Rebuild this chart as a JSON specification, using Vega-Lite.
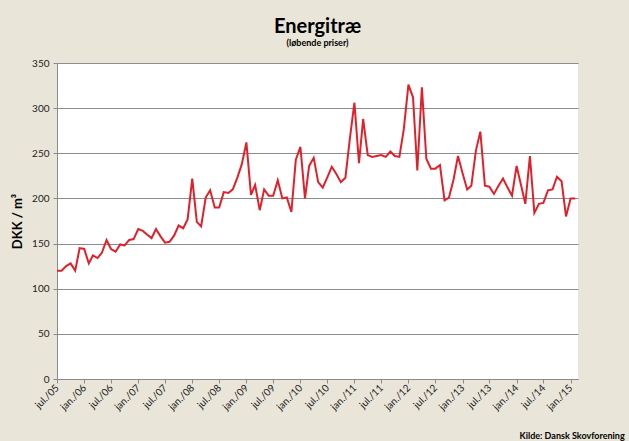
{
  "$schema": "https://vega.github.io/schema/vega-lite/v6.json",
  "autosize": {"type": "none"},
  "width": 521,
  "height": 316,
  "padding": {"left": 57, "top": 63, "right": 51, "bottom": 62},
  "background": "#E9E5D8",
  "title": {
    "text": "Energitræ",
    "subtitle": "(løbende priser)",
    "anchor": "middle",
    "font": "Lato",
    "fontSize": 20,
    "fontWeight": "bold",
    "color": "#000000",
    "subtitleFont": "Lato",
    "subtitleFontSize": 9,
    "subtitleFontWeight": "bold",
    "subtitleColor": "#000000",
    "subtitlePadding": 2,
    "offset": 10
  },
  "data": {
    "values": [
      {"m": "2005-07", "v": 120}, {"m": "2005-08", "v": 120}, {"m": "2005-09", "v": 125}, {"m": "2005-10", "v": 128}, {"m": "2005-11", "v": 120}, {"m": "2005-12", "v": 145},
      {"m": "2006-01", "v": 144}, {"m": "2006-02", "v": 128}, {"m": "2006-03", "v": 137}, {"m": "2006-04", "v": 134}, {"m": "2006-05", "v": 140}, {"m": "2006-06", "v": 154}, {"m": "2006-07", "v": 144}, {"m": "2006-08", "v": 141}, {"m": "2006-09", "v": 149}, {"m": "2006-10", "v": 148}, {"m": "2006-11", "v": 154}, {"m": "2006-12", "v": 155},
      {"m": "2007-01", "v": 166}, {"m": "2007-02", "v": 164}, {"m": "2007-03", "v": 160}, {"m": "2007-04", "v": 156}, {"m": "2007-05", "v": 166}, {"m": "2007-06", "v": 158}, {"m": "2007-07", "v": 151}, {"m": "2007-08", "v": 152}, {"m": "2007-09", "v": 159}, {"m": "2007-10", "v": 170}, {"m": "2007-11", "v": 167}, {"m": "2007-12", "v": 177},
      {"m": "2008-01", "v": 222}, {"m": "2008-02", "v": 174}, {"m": "2008-03", "v": 169}, {"m": "2008-04", "v": 201}, {"m": "2008-05", "v": 209}, {"m": "2008-06", "v": 190}, {"m": "2008-07", "v": 190}, {"m": "2008-08", "v": 207}, {"m": "2008-09", "v": 206}, {"m": "2008-10", "v": 210}, {"m": "2008-11", "v": 223}, {"m": "2008-12", "v": 238},
      {"m": "2009-01", "v": 262}, {"m": "2009-02", "v": 204}, {"m": "2009-03", "v": 215}, {"m": "2009-04", "v": 187}, {"m": "2009-05", "v": 210}, {"m": "2009-06", "v": 203}, {"m": "2009-07", "v": 203}, {"m": "2009-08", "v": 220}, {"m": "2009-09", "v": 200}, {"m": "2009-10", "v": 201}, {"m": "2009-11", "v": 185}, {"m": "2009-12", "v": 243},
      {"m": "2010-01", "v": 257}, {"m": "2010-02", "v": 200}, {"m": "2010-03", "v": 236}, {"m": "2010-04", "v": 245}, {"m": "2010-05", "v": 218}, {"m": "2010-06", "v": 212}, {"m": "2010-07", "v": 223}, {"m": "2010-08", "v": 235}, {"m": "2010-09", "v": 227}, {"m": "2010-10", "v": 218}, {"m": "2010-11", "v": 223}, {"m": "2010-12", "v": 266},
      {"m": "2011-01", "v": 306}, {"m": "2011-02", "v": 239}, {"m": "2011-03", "v": 288}, {"m": "2011-04", "v": 248}, {"m": "2011-05", "v": 246}, {"m": "2011-06", "v": 247}, {"m": "2011-07", "v": 248}, {"m": "2011-08", "v": 246}, {"m": "2011-09", "v": 252}, {"m": "2011-10", "v": 247}, {"m": "2011-11", "v": 246}, {"m": "2011-12", "v": 277},
      {"m": "2012-01", "v": 326}, {"m": "2012-02", "v": 312}, {"m": "2012-03", "v": 231}, {"m": "2012-04", "v": 323}, {"m": "2012-05", "v": 244}, {"m": "2012-06", "v": 233}, {"m": "2012-07", "v": 233}, {"m": "2012-08", "v": 237}, {"m": "2012-09", "v": 198}, {"m": "2012-10", "v": 201}, {"m": "2012-11", "v": 221}, {"m": "2012-12", "v": 247},
      {"m": "2013-01", "v": 228}, {"m": "2013-02", "v": 210}, {"m": "2013-03", "v": 214}, {"m": "2013-04", "v": 253}, {"m": "2013-05", "v": 274}, {"m": "2013-06", "v": 214}, {"m": "2013-07", "v": 213}, {"m": "2013-08", "v": 205}, {"m": "2013-09", "v": 214}, {"m": "2013-10", "v": 222}, {"m": "2013-11", "v": 212}, {"m": "2013-12", "v": 203},
      {"m": "2014-01", "v": 236}, {"m": "2014-02", "v": 214}, {"m": "2014-03", "v": 194}, {"m": "2014-04", "v": 247}, {"m": "2014-05", "v": 184}, {"m": "2014-06", "v": 194}, {"m": "2014-07", "v": 195}, {"m": "2014-08", "v": 209}, {"m": "2014-09", "v": 210}, {"m": "2014-10", "v": 224}, {"m": "2014-11", "v": 219}, {"m": "2014-12", "v": 180},
      {"m": "2015-01", "v": 200}, {"m": "2015-02", "v": 200}
    ],
    "format": {"parse": {"m": "date:'%Y-%m'"}}
  },
  "mark": {"type": "line", "color": "#E2202A", "strokeWidth": 2, "interpolate": "linear"},
  "encoding": {
    "x": {
      "field": "m",
      "type": "temporal",
      "scale": {"domain": [{"year": 2005, "month": 7, "date": 1}, {"year": 2015, "month": 2, "date": 20}]},
      "axis": {
        "title": "Kilde: Dansk Skovforening",
        "titleFont": "Lato",
        "titleFontSize": 9,
        "titleFontWeight": "bold",
        "titleColor": "#000000",
        "titleAnchor": "start",
        "titleAlign": "left",
        "titleBaseline": "alphabetic",
        "titleX": 462,
        "titleY": 59,
        "values": [
          {"year": 2005, "month": 7, "date": 1}, {"year": 2006, "month": 1, "date": 1},
          {"year": 2006, "month": 7, "date": 1}, {"year": 2007, "month": 1, "date": 1},
          {"year": 2007, "month": 7, "date": 1}, {"year": 2008, "month": 1, "date": 1},
          {"year": 2008, "month": 7, "date": 1}, {"year": 2009, "month": 1, "date": 1},
          {"year": 2009, "month": 7, "date": 1}, {"year": 2010, "month": 1, "date": 1},
          {"year": 2010, "month": 7, "date": 1}, {"year": 2011, "month": 1, "date": 1},
          {"year": 2011, "month": 7, "date": 1}, {"year": 2012, "month": 1, "date": 1},
          {"year": 2012, "month": 7, "date": 1}, {"year": 2013, "month": 1, "date": 1},
          {"year": 2013, "month": 7, "date": 1}, {"year": 2014, "month": 1, "date": 1},
          {"year": 2014, "month": 7, "date": 1}, {"year": 2015, "month": 1, "date": 1}
        ],
        "labelExpr": "(month(datum.value) == 0 ? 'jan./' : 'jul./') + timeFormat(datum.value, '%y')",
        "labelAngle": -45,
        "labelAlign": "right",
        "labelBaseline": "middle",
        "labelFont": "Lato",
        "labelFontSize": 10,
        "labelColor": "#222222",
        "labelPadding": 3,
        "labelOverlap": false,
        "labelFlush": false,
        "grid": false,
        "domainColor": "#8a8a8a",
        "tickColor": "#8a8a8a",
        "tickSize": 4
      }
    },
    "y": {
      "field": "v",
      "type": "quantitative",
      "scale": {"domain": [0, 350], "nice": false},
      "axis": {
        "title": "DKK / m³",
        "titleFont": "Lato",
        "titleFontSize": 13,
        "titleFontWeight": "bold",
        "titleColor": "#000000",
        "titlePadding": 7,
        "values": [0, 50, 100, 150, 200, 250, 300, 350],
        "labelFont": "Lato",
        "labelFontSize": 10,
        "labelColor": "#222222",
        "labelPadding": 4,
        "grid": true,
        "gridColor": "#8c8c8c",
        "gridWidth": 1,
        "domainColor": "#8a8a8a",
        "tickColor": "#8a8a8a",
        "tickSize": 4
      }
    }
  },
  "config": {
    "view": {"fill": "#FFFFFF", "stroke": null}
  }
}
